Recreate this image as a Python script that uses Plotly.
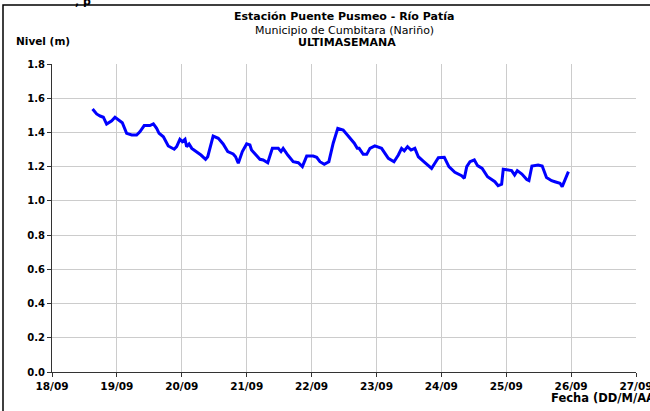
import pandas as pd
import plotly.graph_objects as go

# Data (hours since 18/09 00:00, level in m)
horas = [15.0, 16.5, 17.8, 19.0, 20.2, 22.1, 23.3, 24.5, 26.0, 27.6, 29.5, 31.3, 32.5, 34.1,
         36.2, 37.5, 38.7, 39.6, 41.2, 43.0, 43.6, 45.2, 46.1, 47.3, 48.2, 49.2, 49.8, 50.7,
         51.7, 53.5, 55.1, 56.8, 57.6, 59.6, 61.5, 63.3, 65.0, 67.0, 67.9, 68.9, 70.4, 72.0,
         73.2, 73.8, 75.7, 76.9, 78.1, 79.8, 81.5, 83.7, 84.7, 85.5, 87.2, 89.2, 91.1, 92.6,
         94.2, 96.6, 97.9, 99.1, 100.7, 102.4, 104.0, 105.7, 107.7, 109.6, 111.8, 112.9, 113.6,
         115.1, 116.4, 117.6, 119.4, 121.9, 124.4, 126.5, 128.1, 129.3, 130.3, 131.5, 132.8,
         134.2, 135.5, 137.3, 139.2, 140.4, 141.6, 142.9, 145.1, 146.8, 149.0, 151.5, 152.5,
         153.4, 154.6, 156.2, 157.4, 159.1, 161.1, 162.6, 163.8, 165.0, 166.3, 166.9, 168.7,
         170.0, 171.1, 172.1, 173.8, 175.6, 176.4, 177.5, 179.8, 181.3, 182.9, 184.8, 186.0,
         187.9, 188.7, 191.0]
nivel = [1.537, 1.508, 1.496, 1.489, 1.449, 1.468, 1.489, 1.473, 1.457, 1.395, 1.385, 1.385,
         1.404, 1.440, 1.440, 1.450, 1.424, 1.395, 1.375, 1.321, 1.317, 1.302, 1.317, 1.360,
         1.346, 1.360, 1.317, 1.333, 1.307, 1.288, 1.268, 1.243, 1.258, 1.379, 1.366, 1.333,
         1.288, 1.274, 1.258, 1.220, 1.288, 1.333, 1.327, 1.297, 1.262, 1.243, 1.239, 1.223,
         1.307, 1.307, 1.288, 1.307, 1.268, 1.229, 1.223, 1.200, 1.262, 1.262, 1.255, 1.229,
         1.214, 1.229, 1.337, 1.424, 1.414, 1.375, 1.337, 1.307, 1.307, 1.272, 1.272, 1.307,
         1.321, 1.307, 1.249, 1.229, 1.268, 1.307, 1.293, 1.317, 1.297, 1.307, 1.258, 1.233,
         1.206, 1.190, 1.220, 1.252, 1.255, 1.200, 1.167, 1.147, 1.132, 1.200, 1.229, 1.239,
         1.206, 1.190, 1.141, 1.122, 1.112, 1.089, 1.097, 1.185, 1.181, 1.177, 1.151, 1.177,
         1.157, 1.125, 1.119, 1.204, 1.210, 1.204, 1.137, 1.118, 1.112, 1.103, 1.083, 1.171]

inicio = "2023-09-18"
fin = "2023-09-27"
y_ticks = [0.0, 0.2, 0.4, 0.6, 0.8, 1.0, 1.2, 1.4, 1.6, 1.8]

titulo1 = "Estación Puente Pusmeo - Río Patía"
titulo2 = "Municipio de Cumbitara (Nariño)"
titulo3 = "ULTIMASEMANA"
eje_y = "Nivel (m)"
eje_x = "Fecha (DD/M/AA)"

fechas = pd.Timestamp(inicio) + pd.to_timedelta(horas, unit="h")

FONT = "DejaVu Sans"

fig = go.Figure()
fig.add_trace(go.Scatter(x=fechas, y=nivel, mode="lines",
                         line=dict(color="#0000ff", width=3), showlegend=False,
                         hoverinfo="skip"))

fig.update_layout(
    width=650, height=411,
    margin=dict(l=52, r=14, t=64, b=39),
    paper_bgcolor="white", plot_bgcolor="white",
    font=dict(family=FONT, size=10, color="black"),
)

fig.update_xaxes(
    type="date", range=[inicio, fin], dtick=86400000, tick0=inicio,
    tickformat="%d/%m", showgrid=True, gridcolor="#cccccc", gridwidth=1,
    showline=True, linecolor="#333333", linewidth=1,
    ticks="outside", ticklen=4, tickcolor="#333333",
    tickfont=dict(family=FONT, size=10.5, weight="bold", color="black"),
    ticklabeloverflow="allow", automargin=False,
    zeroline=False,
)
fig.update_yaxes(
    range=[0, 1.8], tickvals=y_ticks, tickformat=".1f",
    showgrid=True, gridcolor="#cccccc", gridwidth=1,
    showline=True, linecolor="#333333", linewidth=1,
    ticks="outside", ticklen=4, tickcolor="#333333",
    tickfont=dict(family=FONT, size=10, weight="bold", color="black"),
    automargin=False, zeroline=False,
)

ann = [
    dict(text=titulo1, x=0.5, y=1.1526, font=dict(family=FONT, size=11, weight="bold")),
    dict(text=titulo2, x=0.5, y=1.110, font=dict(family=FONT, size=11)),
    dict(text=titulo3, x=0.505, y=1.0714, font=dict(family=FONT, size=11, weight="bold")),
    dict(text=eje_y, x=-0.065, y=1.0747, xanchor="left", font=dict(family=FONT, size=10.5, weight="bold")),
    dict(text=eje_x, x=0.851, y=-0.0844, xanchor="left", font=dict(family=FONT, size=11.5, weight="bold")),
    dict(text=", p", x=0.036, y=1.203, xanchor="left", font=dict(family=FONT, size=11, weight="bold")),
]
for a in ann:
    a.setdefault("xanchor", "center")
    fig.add_annotation(xref="paper", yref="paper", yanchor="middle", showarrow=False,
                       font_color="black", **a)

# outer frame (left and top edges visible inside the picture)
fig.add_shape(type="rect", xref="paper", yref="paper", x0=-0.0839, x1=1.06, y0=-0.2, y1=1.1916,
              line=dict(color="black", width=1.5), fillcolor="rgba(0,0,0,0)", layer="above")

fig.write_html("out.html", config={"displayModeBar": False},
               post_script="document.body.style.margin='0';document.body.style.overflow='hidden';")
